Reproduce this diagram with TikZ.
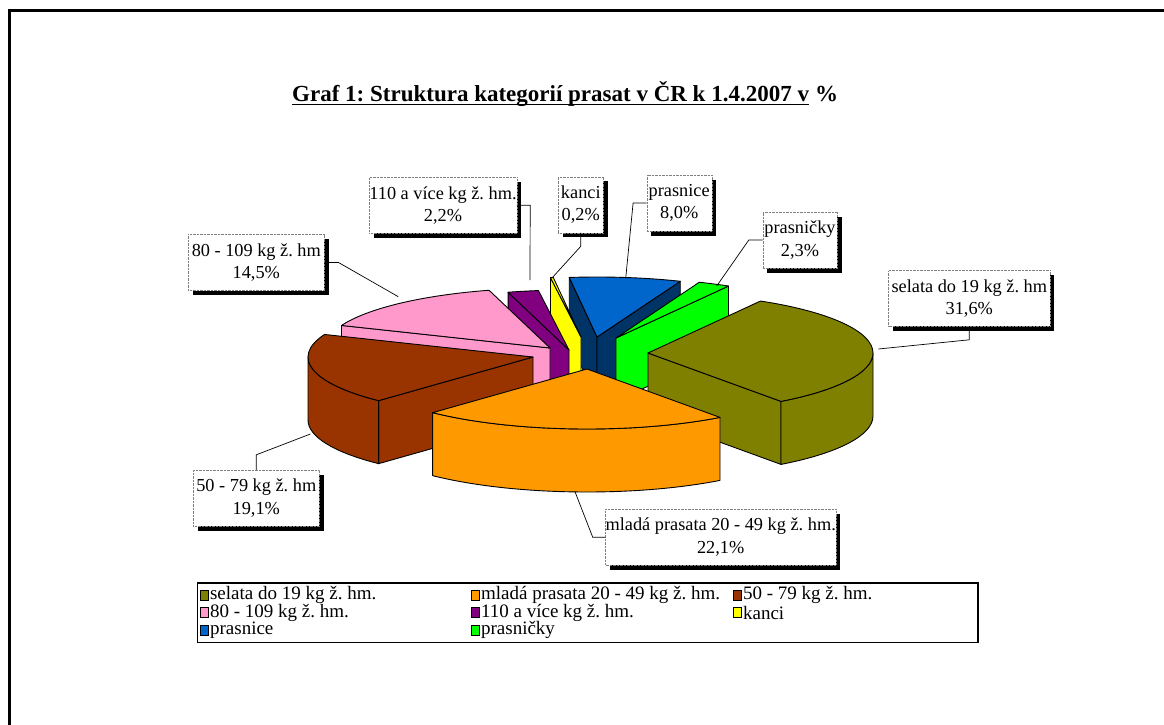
\documentclass[tikz,border=0pt]{standalone}
\usepackage{fontspec}
\setmainfont{Liberation Serif}
\usetikzlibrary{positioning,shadows}
\frenchspacing

\definecolor{selata}{HTML}{808000}
\definecolor{mlada}{HTML}{FF9900}
\definecolor{vaha50}{HTML}{993300}
\definecolor{vaha80}{HTML}{FF99CC}
\definecolor{vaha110}{HTML}{800080}
\definecolor{kanci}{HTML}{FFFF00}
\definecolor{prasnice}{HTML}{0066CC}
\definecolor{prasniceboky}{HTML}{003366}
\definecolor{prasnicky}{HTML}{00FF00}

\tikzset{
  dil/.style={draw=black,line width=0.9pt,line join=round},
  elipsa/.style={x radius=225,y radius=60},
  popis/.style={fill=white,draw=gray,densely dotted,inner sep=0pt,align=center,
    minimum height=56pt,font=\fontsize{18.3}{22.5}\selectfont,
    drop shadow={shadow xshift=4.5pt,shadow yshift=-4.5pt,fill=black,opacity=1}},
  vodic/.style={draw=black,line width=0.7pt},
  znacka/.style={draw=black,line width=0.8pt,minimum width=8pt,minimum height=10pt,inner sep=0pt},
  polozka/.style={inner sep=0pt,font=\fontsize{19}{19}\selectfont}
}

\begin{document}
\begin{tikzpicture}[x=1pt,y=-1pt]
\useasboundingbox (0,0) rectangle (1164,725);
% ramecek
\draw[line width=3pt] (1164,10.5) -- (9,10.5) -- (9,725);

% nadpis
\node[anchor=base west,inner sep=0pt,font=\fontsize{23}{27}\selectfont\bfseries] (nadpis) at (292,101) {Graf 1: Struktura kategorií prasat v ČR k 1.4.2007 v};
\node[anchor=base west,inner sep=0pt,font=\fontsize{23}{27}\selectfont\bfseries] (procento) at ([xshift=5.7pt]nadpis.base east) {\%};
\draw[line width=1.8pt] ([yshift=-3.5pt]nadpis.base west) -- ([yshift=-3.5pt]nadpis.base east);

% vysece, od zadu dopredu
\begin{scope}[shift={(597,337)}] % prasnice
  \filldraw[dil,fill=prasniceboky] (0,0) -- (262.92:225 and 60) -- ++(0,63) -- (0,63) -- cycle;
  \filldraw[dil,fill=prasniceboky] (0,0) -- (291.72:225 and 60) -- ++(0,63) -- (0,63) -- cycle;
  \filldraw[dil,fill=prasnice] (0,0) -- (262.92:225 and 60) arc[elipsa,start angle=262.92,end angle=291.72] -- cycle;
\end{scope}
\begin{scope}[shift={(581,337)}] % kanci
  \filldraw[dil,fill=kanci] (0,0) -- (262.2:225 and 60) -- ++(0,63) -- (0,63) -- cycle;
  \filldraw[dil,fill=kanci] (0,0) -- (262.2:225 and 60) arc[elipsa,start angle=262.2,end angle=262.92] -- cycle;
\end{scope}
\begin{scope}[shift={(569,350)}] % 110 a vice
  \filldraw[dil,fill=vaha110] (0,0) -- (254.28:225 and 60) -- ++(0,63) -- (0,63) -- cycle;
  \filldraw[dil,fill=vaha110] (0,0) -- (254.28:225 and 60) arc[elipsa,start angle=254.28,end angle=262.2] -- cycle;
\end{scope}
\begin{scope}[shift={(550,348)}] % 80 - 109
  \filldraw[dil,fill=vaha80] (0,0) -- (202.08:225 and 60) -- ++(0,63) -- (0,63) -- cycle;
  \filldraw[dil,fill=vaha80] (0,0) -- (202.08:225 and 60) arc[elipsa,start angle=202.08,end angle=254.28] -- cycle;
\end{scope}
\begin{scope}[shift={(616,338)}] % prasnicky
  \filldraw[dil,fill=prasnicky] (0,0) -- (300:225 and 60) -- ++(0,63) -- (0,63) -- cycle;
  \filldraw[dil,fill=prasnicky] (0,0) -- (291.72:225 and 60) arc[elipsa,start angle=291.72,end angle=300] -- cycle;
\end{scope}
\begin{scope}[shift={(648,353)}] % selata
  \filldraw[dil,fill=selata] (0,0) -- (53.76:225 and 60) -- ++(0,63) -- (0,63) -- cycle;
  \filldraw[dil,fill=selata] (0:225 and 60) arc[elipsa,start angle=0,end angle=53.76] -- ++(0,63) arc[elipsa,start angle=53.76,end angle=0] -- cycle;
  \filldraw[dil,fill=selata] (0,0) -- (-60:225 and 60) arc[elipsa,start angle=-60,end angle=53.76] -- cycle;
\end{scope}
\begin{scope}[shift={(533,357)}] % 50 - 79
  \filldraw[dil,fill=vaha50] (0,0) -- (133.32:225 and 60) -- ++(0,63) -- (0,63) -- cycle;
  \filldraw[dil,fill=vaha50] (133.32:225 and 60) arc[elipsa,start angle=133.32,end angle=180] -- ++(0,63) arc[elipsa,start angle=180,end angle=133.32] -- cycle;
  \filldraw[dil,fill=vaha50] (0,0) -- (133.32:225 and 60) arc[elipsa,start angle=133.32,end angle=202.08] -- cycle;
\end{scope}
\begin{scope}[shift={(587,369)}] % mlada prasata
  \filldraw[dil,fill=mlada] (53.76:225 and 60) arc[elipsa,start angle=53.76,end angle=133.32] -- ++(0,63) arc[elipsa,start angle=133.32,end angle=53.76] -- cycle;
  \filldraw[dil,fill=mlada] (0,0) -- (53.76:225 and 60) arc[elipsa,start angle=53.76,end angle=133.32] -- cycle;
\end{scope}

% popisky
\node[popis,minimum width=136pt] (l80) at (256.3,262.5) {80 - 109 kg ž. hm\\14,5\%};
\node[popis,minimum width=147.4pt] (l110) at (443,205.3) {110 a více kg ž. hm.\\2,2\%};
\node[popis,minimum width=45pt] (lkanci) at (580.8,204.7) {kanci\\0,2\%};
\node[popis,minimum width=65pt] (lprasnice) at (679.2,203) {prasnice\\8,0\%};
\node[popis,minimum width=74.6pt] (lprasnicky) at (800,240) {prasničky\\2,3\%};
\node[popis,minimum width=161.3pt] (lselata) at (969.3,298.3) {selata do 19 kg ž. hm\\31,6\%};
\node[popis,minimum width=126pt] (l50) at (256.3,498) {50 - 79 kg ž. hm\\19,1\%};
\node[popis,minimum width=229.3pt] (lmlada) at (720.7,537.2) {mladá prasata 20 - 49 kg ž. hm.\\22,1\%};

% vodici cary
\coordinate (k80) at (398.3,296.7);
\coordinate (k110) at (530,280);
\coordinate (kkanci) at (551.7,278.3);
\coordinate (kprasnice) at (625.7,278.3);
\coordinate (kprasnicky) at (716.7,286);
\coordinate (kselata) at (878.3,349);
\coordinate (k50) at (310.4,434);
\coordinate (kmlada) at (575,491.7);
\draw[vodic] (l80.east) -- ++(14,0) -- (k80);
\draw[vodic] (l110.east) -- ++(13.3,0) -- (k110);
\draw[vodic] (lkanci.south) -- ++(0,13.4) -- (kkanci);
\draw[vodic] (lprasnice.west) -- ++(-13.4,0) -- (kprasnice);
\draw[vodic] (lprasnicky.west) -- ++(-13.7,0) -- (kprasnicky);
\draw[vodic] (lselata.south) -- ++(0,13.3) -- (kselata);
\draw[vodic] (l50.north) -- ++(0,-15) -- (k50);
\draw[vodic] (lmlada.west) -- ++(-12.7,0) -- (kmlada);

% legenda
\draw[line width=1.2pt] (197.5,583) rectangle (978,642.5);
\node[znacka,fill=selata] (z1) at (204,595) {};
\node[polozka,right=1.5pt of z1] (t1) {selata do 19 kg ž. hm.};
\node[znacka,fill=mlada] (z2) at (475,595) {};
\node[polozka,right=1.5pt of z2] (t2) {mladá prasata 20 - 49 kg ž. hm.};
\node[znacka,fill=vaha50] (z3) at (737,595) {};
\node[polozka,right=1.5pt of z3] (t3) {50 - 79 kg ž. hm.};
\node[znacka,fill=vaha80] (z4) at (204,612.5) {};
\node[polozka,right=1.5pt of z4] (t4) {80 - 109 kg ž. hm.};
\node[znacka,fill=vaha110] (z5) at (475,612.5) {};
\node[polozka,right=1.5pt of z5] (t5) {110 a více kg ž. hm.};
\node[znacka,fill=kanci] (z6) at (737,612.5) {};
\node[polozka,right=1.5pt of z6] (t6) {kanci};
\node[znacka,fill=prasnice] (z7) at (204,630) {};
\node[polozka,right=1.5pt of z7] (t7) {prasnice};
\node[znacka,fill=prasnicky] (z8) at (475,630) {};
\node[polozka,right=1.5pt of z8] (t8) {prasničky};
\end{tikzpicture}
\end{document}
